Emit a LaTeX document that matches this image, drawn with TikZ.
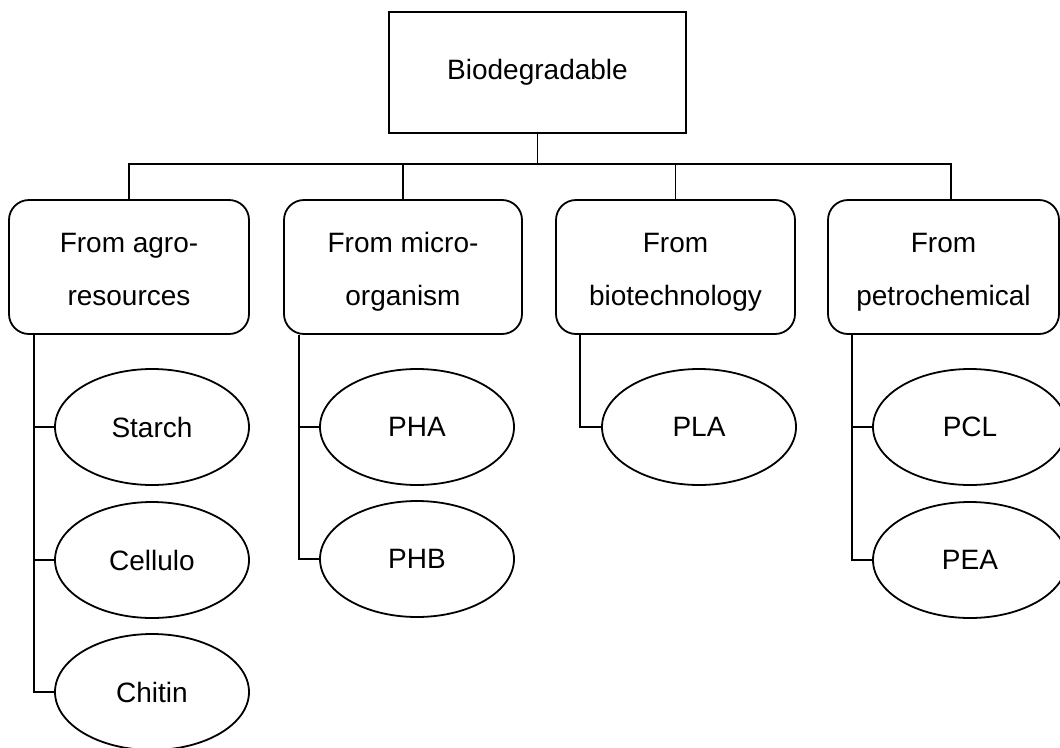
\documentclass[tikz,border=0pt]{standalone}
\usepackage{fontspec}
\setmainfont{Liberation Sans}
\usetikzlibrary{shapes.geometric}
\begin{document}
\begin{tikzpicture}[x=1pt,y=-1pt,line width=1.8pt,
    font=\fontsize{28}{34}\selectfont,
    topbox/.style={draw,rectangle,minimum width=297pt,minimum height=121pt,inner sep=0pt},
    srcbox/.style={draw,rectangle,rounded corners=20pt,minimum height=134pt,inner sep=0pt,
      align=center,font=\fontsize{28}{53}\selectfont,text height=76pt,text depth=0pt},
    polymer/.style={draw,ellipse,minimum width=194pt,minimum height=116pt,inner sep=0pt}]
      \useasboundingbox (0,0) rectangle (1060,747);
      \draw
        (537.5,72.5) node[topbox] (bio){Biodegradable}
        (129,267) node[srcbox,minimum width=240pt] (agro){From agro-\\resources}
        (403,267) node[srcbox,minimum width=238pt] (micro){From micro-\\organism}
        (675.5,267) node[srcbox,minimum width=239pt] (biotech){From\\biotechnology}
        (943.5,267) node[srcbox,minimum width=231pt] (petro){From\\petrochemical}
        (152,427) node[polymer] (starch){Starch}
        (152,560) node[polymer] (cellulo){Cellulo}
        (152,692) node[polymer] (chitin){Chitin}
        (417,427) node[polymer] (pha){PHA}
        (417,559) node[polymer] (phb){PHB}
        (699,427) node[polymer] (pla){PLA}
        (970,427) node[polymer] (pcl){PCL}
        (970,560) node[polymer] (pea){PEA};
      \begin{scope}[-]
        \draw (bio.south) -- ++(0,30) -| (agro.north);
        \draw (bio.south) -- ++(0,30) -| (micro.north);
        \draw (bio.south) -- ++(0,30) -| (biotech.north);
        \draw (bio.south) -- ++(0,30) -| ([xshift=7.5pt]petro.north);
        \draw ([xshift=26pt]agro.south west) |- (starch.west);
        \draw ([xshift=26pt]agro.south west) |- (cellulo.west);
        \draw ([xshift=26pt]agro.south west) |- (chitin.west);
        \draw ([xshift=16pt]micro.south west) |- (pha.west);
        \draw ([xshift=16pt]micro.south west) |- (phb.west);
        \draw ([xshift=25pt]biotech.south west) |- (pla.west);
        \draw ([xshift=25pt]petro.south west) |- (pcl.west);
        \draw ([xshift=25pt]petro.south west) |- (pea.west);
      \end{scope}
    \end{tikzpicture}
\end{document}
